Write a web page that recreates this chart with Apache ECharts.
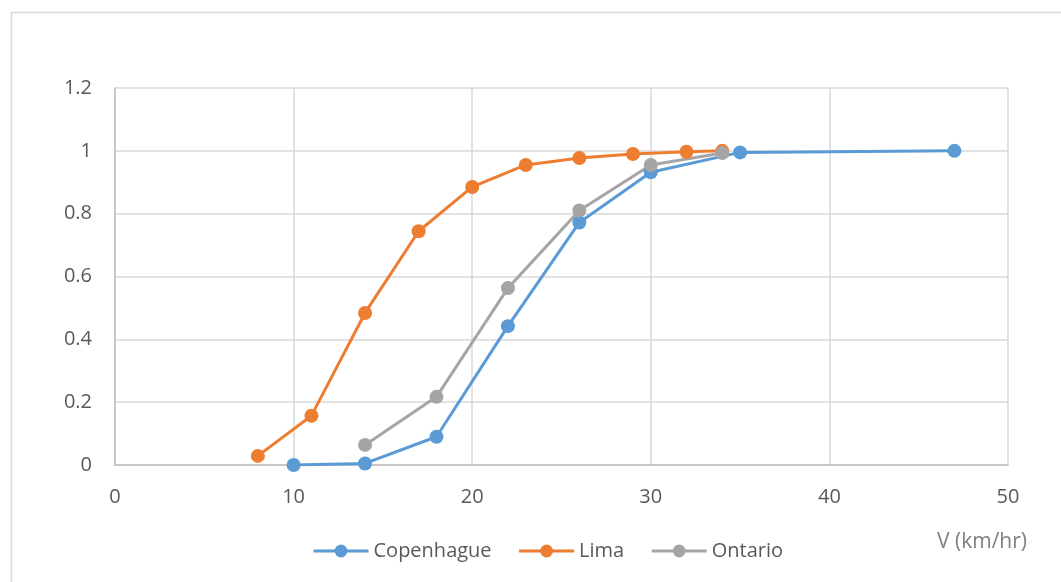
<!DOCTYPE html>
<html>
<head>
<meta charset="utf-8">
<script src="https://cdn.jsdelivr.net/npm/echarts@6/dist/echarts.min.js"></script>
<style>
  html, body { margin: 0; padding: 0; background: #fff; }
  #chart { width: 1061px; height: 582px; }
</style>
</head>
<body>
<div id="chart"></div>
<script>
// Cumulative share by speed V (km/hr) for each city
const copenhagueV = [10, 14, 18, 22, 26, 30, 35, 47];
const copenhagueP = [0, 0.005, 0.09, 0.442, 0.772, 0.932, 0.995, 1.0];

const limaV = [8, 11, 14, 17, 20, 23, 26, 29, 32, 34];
const limaP = [0.029, 0.157, 0.484, 0.744, 0.885, 0.955, 0.977, 0.99, 0.997, 1.0];

const ontarioV = [14, 18, 22, 26, 30, 34];
const ontarioP = [0.064, 0.217, 0.563, 0.81, 0.955, 0.993];

const xTicks = [0, 10, 20, 30, 40, 50];
const yTicks = [0, 0.2, 0.4, 0.6, 0.8, 1, 1.2];

const pairs = (xs, ys) => xs.map((x, i) => [x, ys[i]]);

const FONT = "'Open Sans', 'Noto Sans', sans-serif";
const FS = 20;

function lineSeries(name, color, xs, ys) {
  return {
    name: name,
    type: 'line',
    data: pairs(xs, ys),
    symbol: 'circle',
    symbolSize: 14,
    lineStyle: { color: color, width: 3 },
    itemStyle: { color: color },
    emphasis: { disabled: true }
  };
}

const chart = echarts.init(document.getElementById('chart'), null, { renderer: 'canvas' });
chart.setOption({
  animation: false,
  backgroundColor: '#fff',
  textStyle: { fontFamily: FONT },
  graphic: [
    {
      type: 'rect',
      shape: { x: 11.5, y: 12.5, width: 1060, height: 580 },
      style: { fill: 'none', stroke: '#d9d9d9', lineWidth: 1.5 },
      silent: true
    },
    {
      type: 'text',
      left: 937,
      top: 532,
      style: { text: 'V (km/hr)', fill: '#7f7f7f', font: "21px " + FONT }
    }
  ],
  grid: { left: 115, top: 88, width: 893, height: 377, containLabel: false },
  legend: {
    top: 536,
    left: 307,
    itemWidth: 55,
    itemHeight: 16,
    itemGap: 26,
    lineStyle: { width: 3 },
    textStyle: { color: '#595959', fontSize: FS, fontFamily: FONT },
    data: ['Copenhague', 'Lima', 'Ontario']
  },
  xAxis: {
    type: 'value',
    min: xTicks[0],
    max: xTicks[xTicks.length - 1],
    interval: 10,
    axisLine: { show: true, lineStyle: { color: '#bfbfbf', width: 1.5 } },
    axisTick: { show: false },
    axisLabel: { color: '#595959', fontSize: FS, margin: 22, fontFamily: FONT },
    splitLine: { show: true, lineStyle: { color: '#d9d9d9', width: 1.5 } }
  },
  yAxis: {
    type: 'value',
    min: yTicks[0],
    max: yTicks[yTicks.length - 1],
    interval: 0.2,
    axisLine: { show: true, lineStyle: { color: '#bfbfbf', width: 1.5 } },
    axisTick: { show: false },
    axisLabel: {
      color: '#595959', fontSize: FS, margin: 23, fontFamily: FONT,
      formatter: v => String(Math.round(v * 10) / 10)
    },
    splitLine: { show: true, lineStyle: { color: '#d9d9d9', width: 1.5 } }
  },
  series: [
    lineSeries('Copenhague', '#5b9bd5', copenhagueV, copenhagueP),
    lineSeries('Lima', '#ed7d31', limaV, limaP),
    lineSeries('Ontario', '#a5a5a5', ontarioV, ontarioP)
  ]
});
</script>
</body>
</html>
